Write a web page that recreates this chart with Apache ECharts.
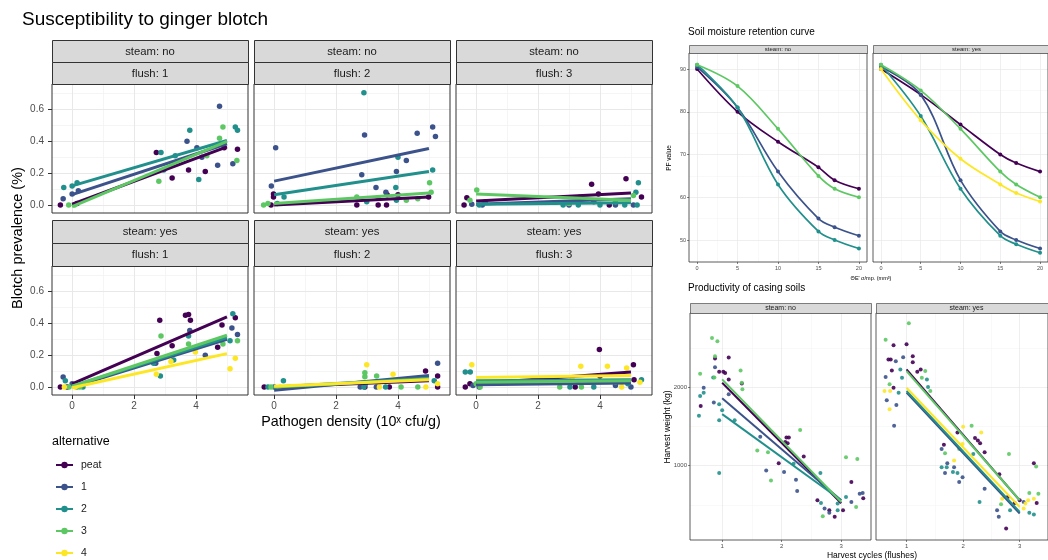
<!DOCTYPE html>
<html><head><meta charset="utf-8">
<script src="https://cdn.jsdelivr.net/npm/echarts@6/dist/echarts.min.js"></script>
<style>html,body{margin:0;padding:0;background:#fff}#c{width:1048px;height:560px}</style>
</head><body><div id="c"></div>
<script>
// ---------------- DATA ----------------
const alternatives = ['peat', '1', '2', '3', '4'];

// Susceptibility to ginger blotch: x = pathogen density (log10), y = blotch prevalence
const blotchTickX = [0, 2, 4];
const blotchTickXLabels = ['0', '2', '4'];
const blotchTickY = [0, 0.2, 0.4, 0.6];
const blotchTickYLabels = ['0.0', '0.2', '0.4', '0.6'];
const blotchLineX = [0, 5];

const blotchNoF1 = {
  peat: [[-0.38,0.0],[0.16,0.01],[2.72,0.33],[3.23,0.17],[3.76,0.22],[4.3,0.21],[4.91,0.36],[5.34,0.35]],
  '1': [[-0.29,0.04],[0.0,0.07],[0.2,0.09],[3.71,0.40],[4.03,0.36],[4.19,0.30],[4.76,0.62],[4.7,0.25],[5.19,0.26]],
  '2': [[-0.27,0.11],[0.0,0.12],[0.16,0.14],[2.87,0.33],[2.96,0.22],[3.33,0.31],[3.8,0.47],[4.09,0.16],[5.27,0.49],[5.34,0.47]],
  '3': [[-0.11,0.0],[0.08,0.0],[2.8,0.15],[4.35,0.31],[4.87,0.49],[4.76,0.42],[5.32,0.28]]
};
const blotchNoF1Lines = { peat: [0.005,0.365], '1': [0.065,0.385], '2': [0.12,0.405], '3': [-0.01,0.40] };

const blotchNoF2 = {
  peat: [[-0.1,0.0],[-0.02,0.07],[-0.02,0.05],[2.67,0.0],[3.36,0.0],[3.63,0.0],[3.65,0.065],[4.0,0.065],[4.99,0.05]],
  '1': [[0.05,0.36],[-0.09,0.12],[2.92,0.44],[2.83,0.19],[3.29,0.11],[3.61,0.08],[3.95,0.21],[4.27,0.28],[4.62,0.45],[5.12,0.49],[5.21,0.43]],
  '2': [[0.32,0.05],[0.1,0.01],[2.9,0.705],[2.99,0.02],[3.93,0.11],[3.95,0.03],[4.0,0.30],[5.12,0.22]],
  '3': [[-0.34,0.0],[-0.2,0.01],[2.67,0.05],[3.36,0.045],[4.27,0.03],[4.64,0.04],[5.02,0.14],[5.07,0.08]]
};
const blotchNoF2Lines = { peat: [0.0,0.05], '1': [0.15,0.355], '2': [0.065,0.21], '3': [0.01,0.075] };

const blotchNoF3 = {
  peat: [[-0.39,0.0],[-0.3,0.045],[3.73,0.13],[3.95,0.07],[4.84,0.165],[5.34,0.05],[4.3,0.0]],
  '1': [[-0.14,0.005],[0.2,0.0],[3.0,0.0],[4.5,0.0],[5.08,0.0],[3.8,0.02]],
  '2': [[0.1,0.0],[2.81,0.0],[3.3,0.0],[4.0,0.0],[4.8,0.0],[5.16,0.08],[5.2,0.0],[5.24,0.14],[0.3,0.02]],
  '3': [[0.02,0.095],[-0.2,0.03],[3.35,0.05],[5.08,0.06],[3.0,0.01],[4.5,0.02]]
};
const blotchNoF3Lines = { peat: [0.025,0.075], '1': [0.005,0.04], '2': [0.005,0.015], '3': [0.07,0.03] };

const blotchYesF1 = {
  peat: [[-0.38,0.0],[-0.16,0.0],[2.83,0.42],[2.74,0.21],[3.23,0.26],[3.66,0.45],[3.76,0.455],[3.82,0.42],[4.84,0.39],[5.27,0.435],[4.7,0.25]],
  '1': [[-0.29,0.063],[0.0,0.02],[3.8,0.355],[4.3,0.2],[5.16,0.37],[5.34,0.33],[2.7,0.15]],
  '2': [[-0.22,0.04],[0.35,0.0],[2.85,0.07],[2.63,0.15],[3.28,0.17],[3.76,0.32],[5.19,0.46],[5.1,0.29],[0.15,0.0]],
  '3': [[2.87,0.32],[3.76,0.27],[5.34,0.29],[4.87,0.27],[-0.1,0.0],[0.25,0.0]],
  '4': [[-0.25,0.0],[2.72,0.08],[3.19,0.16],[3.98,0.22],[5.27,0.18],[5.1,0.115],[0.1,0.0]]
};
const blotchYesF1Lines = { peat: [0.02,0.44], '1': [0.0,0.30], '2': [0.005,0.31], '3': [0.005,0.325], '4': [-0.005,0.21] };

const blotchYesF2 = {
  peat: [[-0.32,0.0],[2.93,0.0],[3.72,0.0],[4.89,0.10],[5.28,0.07],[5.28,0.0]],
  '1': [[2.78,0.0],[5.28,0.15],[0.0,0.0],[3.3,0.0]],
  '2': [[0.3,0.04],[2.9,0.0],[3.6,0.0],[5.17,0.04],[-0.2,0.0],[2.95,0.02]],
  '3': [[-0.1,0.0],[2.93,0.09],[3.31,0.07],[2.93,0.065],[4.64,0.0],[4.1,0.0]],
  '4': [[2.99,0.14],[3.84,0.08],[4.9,0.0],[5.28,0.02],[0.2,0.0],[3.4,0.0]]
};
const blotchYesF2Lines = { peat: [0.0,0.04], '1': [-0.02,0.073], '2': [0.0,0.055], '3': [0.0,0.05], '4': [0.005,0.045] };

const blotchYesF3 = {
  peat: [[-0.35,0.0],[-0.2,0.02],[3.98,0.235],[4.0,0.07],[5.08,0.14],[5.1,0.045],[3.2,0.0]],
  '1': [[0.1,0.0],[3.3,0.03],[5.0,0.0],[4.5,0.01],[-0.1,0.01]],
  '2': [[-0.35,0.095],[-0.19,0.095],[3.03,0.0],[3.8,0.0],[5.34,0.045],[4.9,0.02]],
  '3': [[0.13,0.0],[2.7,0.0],[3.4,0.0],[4.5,0.03],[0.0,0.02]],
  '4': [[-0.14,0.14],[3.38,0.13],[4.24,0.13],[4.86,0.12],[5.29,0.03],[4.7,0.0],[3.1,0.06]]
};
const blotchYesF3Lines = { peat: [0.02,0.094], '1': [0.015,0.025], '2': [0.04,0.045], '3': [0.03,0.04], '4': [0.06,0.073] };

// Soil moisture retention curve
const moistureX = [0, 5, 10, 15, 17, 20];
const moistureTickX = [0, 5, 10, 15, 20];
const moistureTickY = [50, 60, 70, 80, 90];
const moistureNo = {
  peat: [90, 80, 73, 67, 64, 62],
  '1': [90.5, 81, 66, 55, 53, 51],
  '2': [91, 81, 63, 52, 50, 48],
  '3': [91, 86, 76, 65, 62, 60]
};
const moistureYes = {
  peat: [90, 84, 77, 70, 68, 66],
  '1': [90.5, 84, 64, 52, 50, 48],
  '2': [91, 79, 62, 51, 49, 47],
  '3': [91, 85, 76, 66, 63, 60],
  '4': [90, 78, 69, 63, 61, 59]
};

// Productivity of casing soils
const harvestTickX = [1, 2, 3];
const harvestTickY = [1000, 2000];
const harvestLineX = [1, 3];
const harvestNo = {
  peat: [[0.88,2363],[1.11,2375],[0.95,2194],[1.02,2194],[1.05,2180],[1.11,2097],[1.33,2046],[0.64,1759],[2.08,1358],[2.12,1358],[2.1,1283],[2.06,1300],[2.37,1114],[1.95,1029],[2.6,557],[2.8,430],[2.89,346],[3.17,789],[3.03,430],[3.37,582]],
  '1': [[0.88,2253],[0.69,1991],[0.86,1802],[1.11,1907],[1.64,1367],[2.04,916],[1.74,937],[2.26,675],[2.24,818],[2.72,451],[2.8,397],[3.17,536],[3.31,641],[3.36,650]],
  '2': [[0.85,2122],[0.63,1886],[0.69,1928],[0.61,1633],[0.95,1780],[1.0,1705],[0.95,1578],[1.21,1578],[0.95,903],[2.2,1021],[2.65,903],[2.66,523],[2.94,515],[3.08,599],[2.94,430]],
  '3': [[0.83,2624],[0.92,2582],[0.88,2392],[1.31,2211],[0.63,2168],[0.87,2122],[1.33,2055],[1.34,1970],[2.31,1452],[1.59,1190],[1.77,1169],[1.82,810],[2.69,355],[3.08,1105],[3.27,1084],[3.25,473]]
};
const harvestNoLines = { peat: [2055,519], '1': [1857,557], '2': [1654,557], '3': [2097,535] };
const harvestYes = {
  peat: [[0.77,2532],[1.0,2544],[0.68,2350],[0.72,2350],[1.11,2392],[1.11,2316],[0.74,2211],[1.25,2224],[1.19,2194],[0.77,1991],[1.9,1422],[2.21,1350],[2.26,1320],[2.3,1283],[1.66,1265],[2.38,1169],[2.64,890],[3.25,1030],[3.3,523],[2.79,599],[2.91,523],[2.76,199],[3.0,557]],
  '1': [[0.94,2380],[0.81,2329],[0.63,2127],[0.65,1831],[0.82,1772],[0.78,1506],[1.62,1211],[1.72,1030],[1.84,979],[1.68,903],[1.93,789],[1.99,852],[2.38,705],[2.6,430],[2.63,346],[3.07,536]],
  '2': [[0.89,2224],[0.92,2118],[1.36,2097],[0.86,1928],[1.38,2000],[2.18,1148],[1.62,979],[1.71,979],[1.9,903],[1.82,916],[2.29,536],[3.17,397],[3.25,376],[2.83,430]],
  '3': [[1.04,2814],[0.63,2603],[1.33,2203],[1.27,2118],[0.7,2034],[1.42,1949],[2.15,1506],[1.68,1156],[1.93,1211],[2.81,1148],[3.29,988],[3.17,649],[3.33,641],[2.67,507]],
  '4': [[0.61,1949],[0.71,1949],[0.7,1717],[2.0,1494],[2.32,1422],[1.99,1274],[1.84,1063],[2.69,578],[3.25,578],[3.15,557],[3.07,451],[3.1,515]]
};
const harvestYesLines = { peat: [2224,557], '1': [1928,389], '2': [1949,409], '3': [2203,557], '4': [1991,472] };

// ---------------- STYLE / LAYOUT ----------------
const FONT = '"Liberation Sans", Arial, sans-serif';
const altColors = { peat: '#440154', '1': '#3B528B', '2': '#21908C', '3': '#5DC863', '4': '#FDE725' };

const grids = [], xAxes = [], yAxes = [], series = [], graphic = [];

function fmtFor(ticks, labels) {
  return v => { const i = ticks.findIndex(t => Math.abs(t - v) < 1e-6); return i < 0 ? '' : labels[i]; };
}
function mkAxis(gi, range, ticks, labels, show, st, margin) {
  return {
    type: 'value', gridIndex: gi, min: range[0], max: range[1],
    axisLine: { show: false, onZero: false },
    splitLine: { show: false },
    axisTick: { show: show, customValues: ticks, length: st.tickLen, lineStyle: { color: '#333', width: st.tickW } },
    axisLabel: { show: show, customValues: ticks, margin: margin, fontSize: st.fs, color: '#4D4D4D', fontFamily: FONT,
      formatter: fmtFor(ticks, labels) }
  };
}
function panel(p) {
  const gi = grids.length;
  grids.push({ left: p.x0, top: p.y0, width: p.x1 - p.x0, height: p.y1 - p.y0, show: true,
    borderColor: '#333', borderWidth: p.bw, backgroundColor: 'transparent', z: 1 });
  const xi = xAxes.length, yi = yAxes.length;
  xAxes.push(mkAxis(gi, p.xr, p.xt, p.xl, p.showX, p.st, p.st.marginX));
  yAxes.push(mkAxis(gi, p.yr, p.yt, p.yl, p.showY, p.st, p.st.marginY));
  const ml = [];
  p.xMinor.forEach(v => ml.push({ xAxis: v, lineStyle: { color: '#F3F3F3', width: p.minorW, type: 'solid' } }));
  p.yMinor.forEach(v => ml.push({ yAxis: v, lineStyle: { color: '#F3F3F3', width: p.minorW, type: 'solid' } }));
  p.xt.forEach(v => ml.push({ xAxis: v, lineStyle: { color: '#E8E8E8', width: p.majorW, type: 'solid' } }));
  p.yt.forEach(v => ml.push({ yAxis: v, lineStyle: { color: '#E8E8E8', width: p.majorW, type: 'solid' } }));
  series.push({ type: 'scatter', xAxisIndex: xi, yAxisIndex: yi, data: [], silent: true, z: 0,
    markLine: { silent: true, symbol: 'none', label: { show: false }, animation: false, z: 0, data: ml } });
  return { xi, yi };
}
function strip(x0, x1, y0, y1, text, fs, lw) {
  graphic.push({ type: 'rect', shape: { x: x0 + 0.5, y: y0 + 0.5, width: x1 - x0, height: y1 - y0 },
    style: { fill: '#D9D9D9', stroke: '#333', lineWidth: lw }, z: 1 });
  graphic.push({ type: 'text', x: (x0 + x1) / 2, y: (y0 + y1) / 2 + 0.5,
    style: { text: text, font: fs + 'px ' + FONT, fill: '#1A1A1A', textAlign: 'center', textVerticalAlign: 'middle' }, z: 2 });
}
function label(text, x, y, fs, opts) {
  opts = opts || {};
  graphic.push({ type: 'text', x: x, y: y, rotation: opts.rot || 0,
    style: { text: text, font: fs + 'px ' + FONT, fill: opts.color || '#000', textAlign: opts.align || 'left', textVerticalAlign: 'middle' }, z: 2 });
}

// ---------- Left: ginger blotch facets ----------
const leftCols = [[52, 248], [254, 450], [456, 652]];
const leftRows = [
  { s1: [40, 62], s2: [62, 84], p: [84, 213], steam: 'steam: no', data: [blotchNoF1, blotchNoF2, blotchNoF3], lines: [blotchNoF1Lines, blotchNoF2Lines, blotchNoF3Lines] },
  { s1: [220, 243], s2: [243, 266], p: [266, 395], steam: 'steam: yes', data: [blotchYesF1, blotchYesF2, blotchYesF3], lines: [blotchYesF1Lines, blotchYesF2Lines, blotchYesF3Lines] }
];
const leftStyle = { tickLen: 4, tickW: 1, marginX: 6, marginY: 8, fs: 10 };
leftRows.forEach((row, ri) => {
  leftCols.forEach((col, ci) => {
    strip(col[0], col[1], row.s1[0], row.s1[1], row.steam, 11.3, 1);
    strip(col[0], col[1], row.s2[0], row.s2[1], 'flush: ' + (ci + 1), 11.3, 1);
    const ax = panel({ x0: col[0], x1: col[1], y0: row.p[0], y1: row.p[1], bw: 1,
      xr: [-0.65, 5.68], yr: [-0.05, 0.76], xt: blotchTickX, xl: blotchTickXLabels, yt: blotchTickY, yl: blotchTickYLabels,
      xMinor: [1, 3, 5], yMinor: [0.1, 0.3, 0.5, 0.7], showX: ri === 1, showY: ci === 0, st: leftStyle, minorW: 0.8, majorW: 1 });
    const pts = row.data[ci], lns = row.lines[ci];
    alternatives.forEach((a, k) => {
      if (!lns[a]) return;
      series.push({ name: a, type: 'line', xAxisIndex: ax.xi, yAxisIndex: ax.yi, z: 3 + k * 0.01,
        data: [[blotchLineX[0], lns[a][0]], [blotchLineX[1], lns[a][1]]],
        symbol: 'circle', symbolSize: 6, showSymbol: false, lineStyle: { color: altColors[a], width: 3 },
        itemStyle: { color: altColors[a] }, silent: true });
    });
    alternatives.forEach(a => {
      if (!pts[a]) return;
      series.push({ name: a, type: 'scatter', xAxisIndex: ax.xi, yAxisIndex: ax.yi, z: 2,
        data: pts[a], symbolSize: 5.5, itemStyle: { color: altColors[a], opacity: 1 }, silent: true });
    });
  });
});
label('Susceptibility to ginger blotch', 22, 20, 19);
label('Blotch prevalence (%)', 18, 238, 14.5, { rot: Math.PI / 2, align: 'center' });
label('Pathogen density (10\u02E3 cfu/g)', 351, 422, 14.3, { align: 'center' });
label('alternative', 52, 442, 12.5);

// ---------- Right top: soil moisture ----------
const rtCols = [[689, 867], [873, 1051]];
const rtStyle = { tickLen: 2, tickW: 0.6, marginX: 3, marginY: 3, fs: 5.5 };
[[moistureNo, 'steam: no'], [moistureYes, 'steam: yes']].forEach((d, ci) => {
  const col = rtCols[ci];
  strip(col[0], ci === 1 ? 1060 : col[1], 45, 53, d[1], 6, 0.6);
  const ax = panel({ x0: col[0], x1: col[1], y0: 53, y1: 262, bw: 0.8,
    xr: [-1, 21], yr: [44.85, 93.75], xt: moistureTickX, xl: moistureTickX.map(String), yt: moistureTickY, yl: moistureTickY.map(String),
    xMinor: [2.5, 7.5, 12.5, 17.5], yMinor: [55, 65, 75, 85], showX: true, showY: ci === 0, st: rtStyle, minorW: 0.5, majorW: 0.7 });
  alternatives.forEach((a, k) => {
    if (!d[0][a]) return;
    series.push({ name: a, type: 'line', xAxisIndex: ax.xi, yAxisIndex: ax.yi, z: 3 + k * 0.01,
      data: moistureX.map((x, i) => [x, d[0][a][i]]), smooth: 0.35,
      symbol: 'circle', symbolSize: 4, showSymbol: true, lineStyle: { color: altColors[a], width: 1.7 },
      itemStyle: { color: altColors[a] }, silent: true });
  });
});
label('Soil moisture retention curve', 688, 32, 10);
label('PF value', 669, 158, 6.5, { rot: Math.PI / 2, align: 'center' });
label("\u0398E' \u03C3/mp. (mm\u00B3)", 871, 278, 5.5, { align: 'center' });

// ---------- Right bottom: harvest ----------
const rbCols = [[690, 871], [876, 1057]];
const rbStyle = { tickLen: 2, tickW: 0.6, marginX: 3, marginY: 3, fs: 6 };
[[harvestNo, harvestNoLines, 'steam: no'], [harvestYes, harvestYesLines, 'steam: yes']].forEach((d, ci) => {
  const col = rbCols[ci];
  strip(col[0], col[1], 303, 313, d[2], 7, 0.6);
  const ax = panel({ x0: col[0], x1: col[1], y0: 313, y1: 540, bw: 0.8,
    xr: [0.46, 3.5], yr: [51, 2943], xt: harvestTickX, xl: harvestTickX.map(String), yt: harvestTickY, yl: harvestTickY.map(String),
    xMinor: [1.5, 2.5], yMinor: [500, 1500, 2500], showX: true, showY: ci === 0, st: rbStyle, minorW: 0.5, majorW: 0.7 });
  alternatives.forEach((a, k) => {
    if (!d[1][a]) return;
    series.push({ name: a, type: 'line', xAxisIndex: ax.xi, yAxisIndex: ax.yi, z: 3 + k * 0.01,
      data: [[harvestLineX[0], d[1][a][0]], [harvestLineX[1], d[1][a][1]]],
      symbol: 'circle', showSymbol: false, lineStyle: { color: altColors[a], width: 2 },
      itemStyle: { color: altColors[a] }, silent: true });
  });
  alternatives.forEach(a => {
    if (!d[0][a]) return;
    series.push({ name: a, type: 'scatter', xAxisIndex: ax.xi, yAxisIndex: ax.yi, z: 2,
      data: d[0][a], symbolSize: 4, itemStyle: { color: altColors[a], opacity: 0.9 }, silent: true });
  });
});
label('Productivity of casing soils', 688, 288, 10);
label('Harvest weight (kg)', 668, 427, 8.5, { rot: Math.PI / 2, align: 'center' });
label('Harvest cycles (flushes)', 872, 556, 8.5, { align: 'center' });

const option = {
  animation: false,
  backgroundColor: '#fff',
  textStyle: { fontFamily: FONT },
  grid: grids, xAxis: xAxes, yAxis: yAxes, series: series, graphic: graphic,
  legend: { data: alternatives, orient: 'vertical', left: 55, top: 459, padding: 0, itemWidth: 17, itemHeight: 8, itemGap: 10,
    selectedMode: false, textStyle: { fontSize: 10.5, lineHeight: 12, color: '#1A1A1A', fontFamily: FONT, padding: [0, 0, 0, 3] } }
};
const chart = echarts.init(document.getElementById('c'));
chart.setOption(option);
</script></body></html>
